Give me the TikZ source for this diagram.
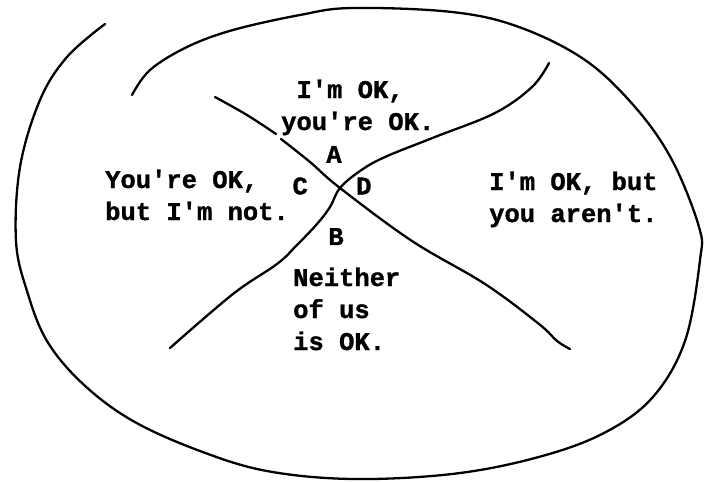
\documentclass[tikz,border=0pt]{standalone}
\usepackage{fontspec}
\setmonofont{Liberation Mono}[BoldFeatures={FakeBold=1.2}]
\usetikzlibrary{positioning}
\newcommand{\okfont}{\fontsize{25.5}{32}\selectfont\ttfamily\bfseries}
\tikzset{
  ink/.style={line width=2.3pt, draw=black, line cap=round, line join=round},
  quadtext/.style={font=\okfont, align=left, inner sep=0pt, anchor=base west},
  letter/.style={font=\okfont, inner sep=0pt},
}

\begin{document}
\begin{tikzpicture}[x=1pt, y=-1pt]
\useasboundingbox (0,0) rectangle (705,482);
% outer loop, open at the top left
\draw[ink] plot[smooth, tension=0.6] coordinates {
  (105,24) (67,57) (40,100) (20,167) (16,241) (27,291) (47,341) (83,384)
  (133,421) (200,451) (267,471) (352,479) (452,474) (535,458) (602,434)
  (652,398) (685,341) (700,260) (699,227) (672,160) (635,107) (585,60)
  (519,27) (452,12) (352,8) (300,15) (233,30) (187,47) (150,70) (132,95)};
% the two crossing strokes
\coordinate (X) at (340,188);
\draw[ink] plot[smooth, tension=0.6] coordinates {(215,97) (247,115) (276,134)};
\draw[ink] plot[smooth, tension=0.6] coordinates {
  (281,139) (310,162) (X) (412,241) (485,284) (539,324) (557,341) (570,349)};
\draw[ink] plot[smooth, tension=0.6] coordinates {
  (549,63) (532,87) (495,113) (435,137) (385,157) (360,171) (X) (330,207)
  (317,224) (296,246) (277,264) (233,294) (170,348)};

% base is the last line here
\node[quadtext] (topq) at (281,130) {~I'm OK,\\you're OK.};
\node[quadtext] (leftq) at (105,220) {You're OK,\\but I'm not.};
\node[quadtext] (rightq) at (489,222) {I'm OK, but\\you aren't.};
\node[quadtext] (botq) at (293,350) {Neither\\of us\\is OK.};

\node[letter, above=25pt of X, xshift=-6pt] (la) {A};
\node[letter, below=40pt of X, xshift=-4pt] (lb) {B};
\node[letter, left=32pt of X, yshift=2pt] (lc) {C};
\node[letter, right=16pt of X, yshift=2pt] (ld) {D};
\end{tikzpicture}
\end{document}
